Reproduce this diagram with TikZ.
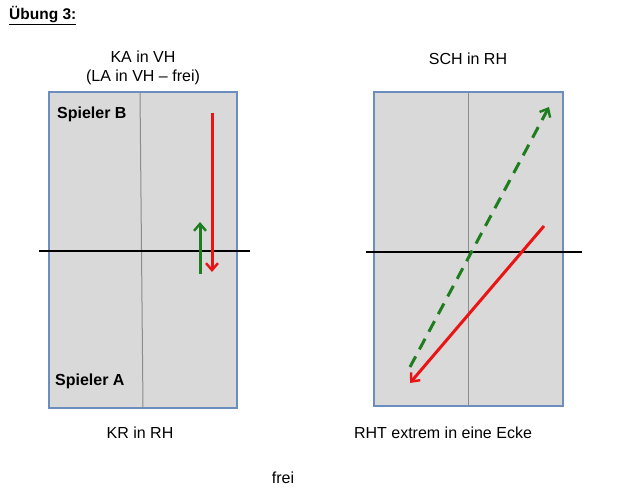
\documentclass[tikz,border=0pt]{standalone}
\usepackage{fontspec}
\setmainfont{Liberation Sans}
\usepackage{tikz}
\usetikzlibrary{positioning,arrows.meta}

\definecolor{tableblue}{RGB}{108,142,191}
\definecolor{tablegrey}{RGB}{217,217,217}
\definecolor{hitred}{RGB}{235,20,20}
\definecolor{hitgreen}{RGB}{30,125,30}

\begin{document}
\begin{tikzpicture}[
  x=1pt, y=-1pt,
  every node/.style={inner sep=0pt, font=\fontsize{16}{19}\selectfont},
  caption/.style={align=center},
  player/.style={font=\fontsize{16}{19}\selectfont\bfseries, anchor=west},
  table/.style={draw=tableblue, fill=tablegrey, line width=1.2pt},
  midline/.style={draw=black!45, line width=1pt},
  net/.style={draw=black, line width=1.2pt},
  redhit/.style={draw=hitred, line width=3pt, -{Straight Barb[length=7pt, width=12pt, line width=2.4pt]}},
  greenhit/.style={draw=hitgreen, line width=3pt, -{Straight Barb[length=7pt, width=12pt, line width=2.4pt]}}
]
\useasboundingbox (0,0) rectangle (631,500);

% title
\node[anchor=west, font=\fontsize{15.5}{18}\selectfont\bfseries] (title) at (9,16) {\underline{Übung 3:}};

% left table
\draw[table] (49,92) rectangle (237,408);
\draw[midline] (140,92) -- (143,408);
\draw[net] (39,251) -- (250,251);
\node[caption] (leftTop) at (143,68) {KA in VH\\(LA in VH -- frei)};
\node[player] (playerB) at (57,114) {Spieler B};
\node[player] (playerA) at (55,381) {Spieler A};
\node (leftBottom) at (140,433) {KR in RH};

\coordinate (redStartL) at (212,113);
\coordinate (redEndL) at (212,272);
\coordinate (greenStartL) at (200,274);
\coordinate (greenEndL) at (200,222);
\draw[redhit] (redStartL) -- (redEndL);
\draw[greenhit] (greenStartL) -- (greenEndL);

% right table
\draw[table] (374,92) rectangle (563,406);
\draw[midline] (468,92) -- (468,406);
\draw[net] (366,252) -- (582,252);
\node (rightTop) at (468,59) {SCH in RH};
\node (rightBottom) at (443,433) {RHT extrem in eine Ecke};

\coordinate (greenStartR) at (410,367);
\coordinate (greenEndR) at (549,107);
\coordinate (redStartR) at (544,226);
\coordinate (redEndR) at (410,383);
\draw[greenhit, dash pattern=on 12pt off 8pt] (greenStartR) -- (greenEndR);
\draw[redhit] (redStartR) -- (redEndR);

% bottom
\node (free) at (283,478) {frei};
\end{tikzpicture}
\end{document}
